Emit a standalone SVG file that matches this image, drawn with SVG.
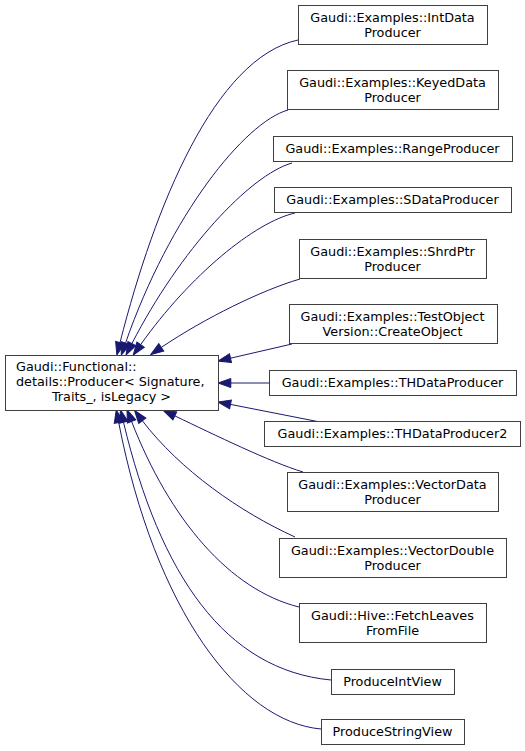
<svg xmlns="http://www.w3.org/2000/svg" width="525" height="751" viewBox="0 0 525 751">
<style>
.node rect{fill:#ffffff;stroke:#3f3f3f;stroke-width:1}
.node text{font-family:"DejaVu Sans",sans-serif;font-size:12.8px;fill:#000000;text-anchor:middle}
.node text.l{text-anchor:start}
.edge path{fill:none;stroke:#191970;stroke-width:1;marker-end:url(#ah)}
</style>
<defs>
<marker id="ah" markerWidth="13" markerHeight="9" refX="0" refY="4.5" orient="auto" markerUnits="userSpaceOnUse" overflow="visible">
<path d="M0,0 L12.8,4.5 L0,9 z" fill="#191970" stroke="#191970" stroke-width="1"/>
</marker>
</defs>
<g id="connectors" class="edge">
<path d="M298,40 C215,58 155,205 120,342.6"/>
<path d="M288,110 C245,122 170,215 125.5,343.1"/>
<path d="M292,163 C250,175 180,250 131.9,343.6"/>
<path d="M295,213 C255,222 190,275 140.6,344.7"/>
<path d="M300,279 C262,290 205,318 161.3,347.4"/>
<path d="M292,344 L230.5,358.2"/>
<path d="M269,383 L230.8,383"/>
<path d="M320,422 L230.5,404.4"/>
<path d="M303,472 C270,462 215,435 174.8,415.9"/>
<path d="M295,537 C240,512 180,470 142.3,420.7"/>
<path d="M299,607 C230,590 170,520 131.6,421.5"/>
<path d="M331,680 C225,670 160,575 123.5,422.3"/>
<path d="M321,729 C240,722 155,610 118.7,422.5"/>
</g>
<g id="node_producer" class="node">
<rect x="5.5" y="355.5" width="213" height="55"/>
<text class="l" x="16" y="371">Gaudi::Functional::</text>
<text class="l" x="16" y="386">details::Producer&lt; Signature,</text>
<text x="111.5" y="401">Traits_, isLegacy &gt;</text>
</g>
<g id="node_intdata" class="node">
<rect x="298.5" y="5.5" width="189" height="39"/>
<text x="392.5" y="22">Gaudi::Examples::IntData</text>
<text x="392.5" y="37">Producer</text>
</g>
<g id="node_keyeddata" class="node">
<rect x="287.5" y="70.5" width="211" height="39"/>
<text x="392.5" y="87">Gaudi::Examples::KeyedData</text>
<text x="392.5" y="102">Producer</text>
</g>
<g id="node_range" class="node">
<rect x="273.5" y="136.5" width="239" height="25"/>
<text x="392.5" y="153">Gaudi::Examples::RangeProducer</text>
</g>
<g id="node_sdata" class="node">
<rect x="274.5" y="187.5" width="237" height="25"/>
<text x="392.5" y="204">Gaudi::Examples::SDataProducer</text>
</g>
<g id="node_shrdptr" class="node">
<rect x="299.5" y="239.5" width="187" height="39"/>
<text x="392.5" y="256">Gaudi::Examples::ShrdPtr</text>
<text x="392.5" y="271">Producer</text>
</g>
<g id="node_testobject" class="node">
<rect x="289.5" y="304.5" width="208" height="39"/>
<text x="392.5" y="321">Gaudi::Examples::TestObject</text>
<text x="392.5" y="336">Version::CreateObject</text>
</g>
<g id="node_thdata" class="node">
<rect x="269.5" y="370.5" width="247" height="25"/>
<text x="392.5" y="387">Gaudi::Examples::THDataProducer</text>
</g>
<g id="node_thdata2" class="node">
<rect x="264.5" y="421.5" width="256" height="25"/>
<text x="392.5" y="438">Gaudi::Examples::THDataProducer2</text>
</g>
<g id="node_vectordata" class="node">
<rect x="287.5" y="472.5" width="211" height="39"/>
<text x="392.5" y="489">Gaudi::Examples::VectorData</text>
<text x="392.5" y="504">Producer</text>
</g>
<g id="node_vectordouble" class="node">
<rect x="279.5" y="538.5" width="227" height="39"/>
<text x="392.5" y="555">Gaudi::Examples::VectorDouble</text>
<text x="392.5" y="570">Producer</text>
</g>
<g id="node_fetchleaves" class="node">
<rect x="299.5" y="603.5" width="187" height="39"/>
<text x="392.5" y="620">Gaudi::Hive::FetchLeaves</text>
<text x="392.5" y="635">FromFile</text>
</g>
<g id="node_intview" class="node">
<rect x="331.5" y="669.5" width="123" height="25"/>
<text x="392.5" y="686">ProduceIntView</text>
</g>
<g id="node_stringview" class="node">
<rect x="321.5" y="719.5" width="143" height="25"/>
<text x="392.5" y="736">ProduceStringView</text>
</g>
</svg>
